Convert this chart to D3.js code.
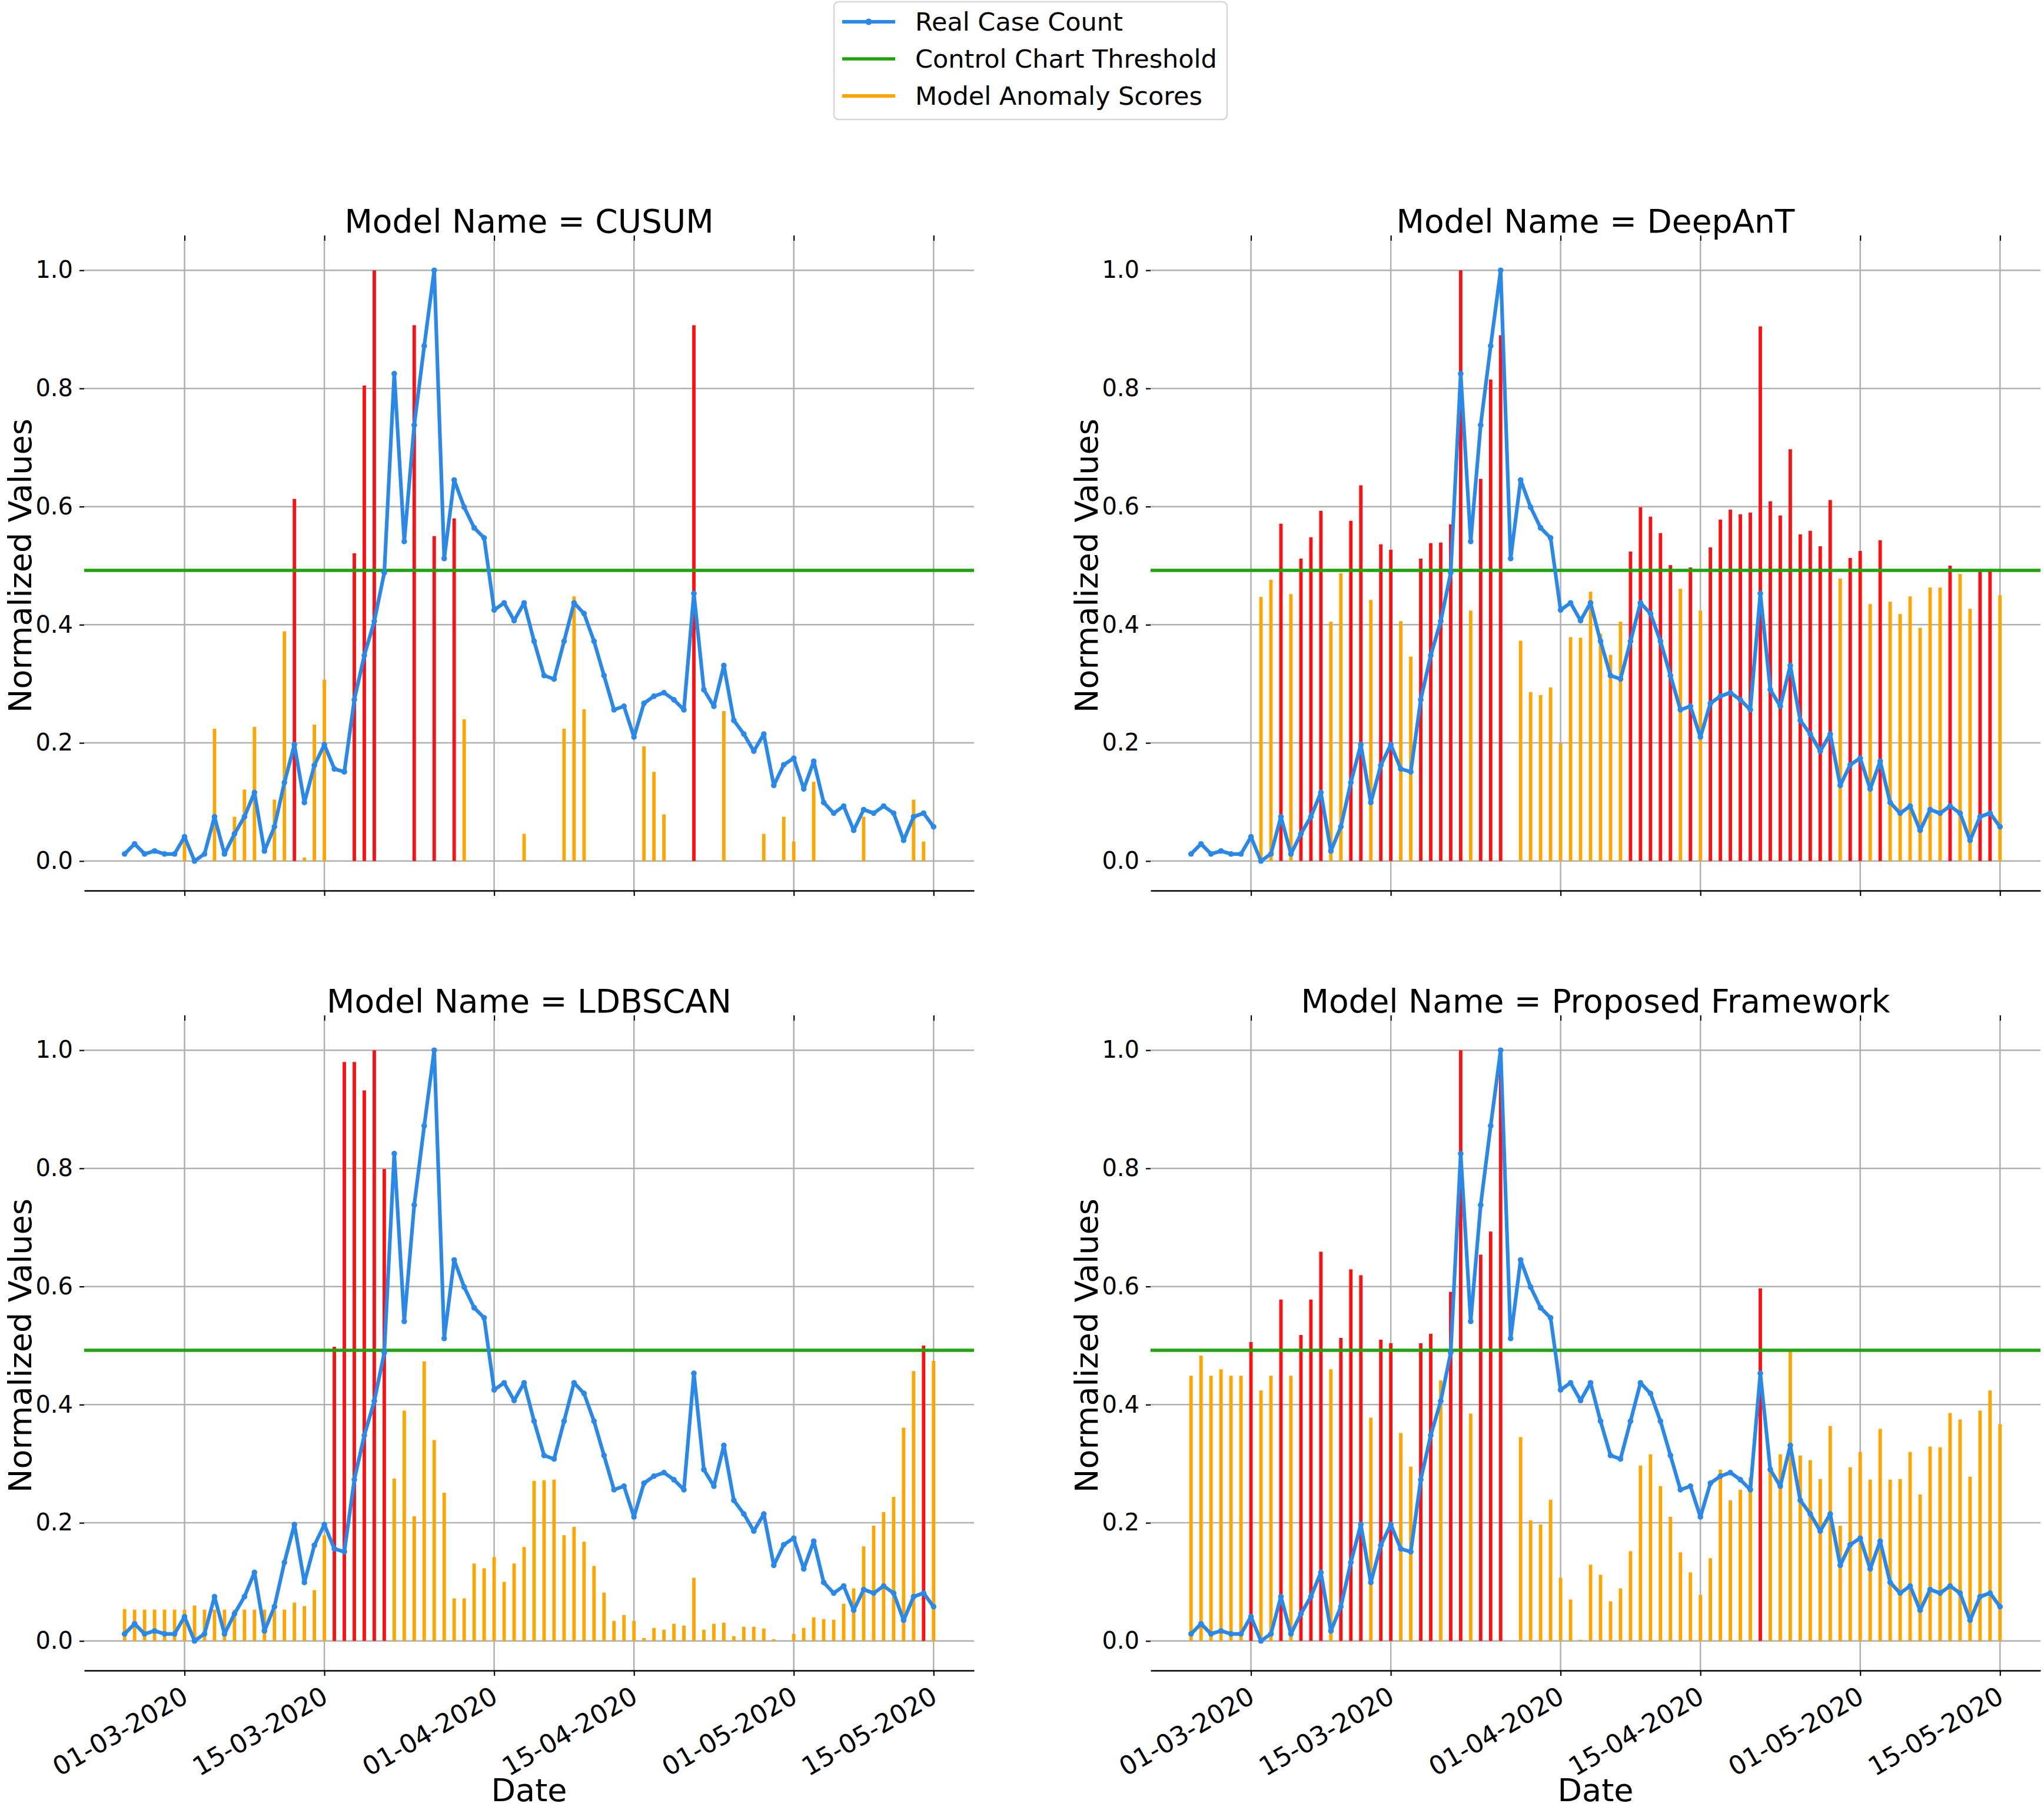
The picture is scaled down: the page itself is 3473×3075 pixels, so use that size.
<!DOCTYPE html>
<html>
<head>
<meta charset="utf-8">
<script src="https://cdn.jsdelivr.net/npm/d3@7"></script>
<style>
  html, body { margin: 0; padding: 0; background: #ffffff; }
  svg { display: block; }
  text { font-family: "DejaVu Sans", sans-serif; }
</style>
</head>
<body>
<script>
// ---------------- DATA ----------------
const startDate = "24-02-2020";
const endDate = "15-05-2020";
const tickLabels = ["01-03-2020", "15-03-2020", "01-04-2020", "15-04-2020", "01-05-2020", "15-05-2020"];
const yTickValues = [0.0, 0.2, 0.4, 0.6, 0.8, 1.0];
const modelNames = ["CUSUM", "DeepAnT", "LDBSCAN", "Proposed Framework"];
const threshold = 0.492;

const caseCount = [
  0.012, 0.029, 0.012, 0.017, 0.012, 0.012, 0.041, 0.000, 0.012, 0.075,
  0.012, 0.046, 0.075, 0.116, 0.017, 0.058, 0.133, 0.197, 0.099, 0.162,
  0.197, 0.156, 0.151, 0.273, 0.348, 0.406, 0.488, 0.825, 0.541, 0.738,
  0.872, 1.000, 0.512, 0.645, 0.599, 0.564, 0.547, 0.425, 0.437, 0.407,
  0.437, 0.372, 0.314, 0.308, 0.372, 0.437, 0.419, 0.372, 0.314, 0.256,
  0.262, 0.210, 0.267, 0.279, 0.285, 0.273, 0.256, 0.453, 0.290, 0.262,
  0.331, 0.238, 0.215, 0.186, 0.215, 0.128, 0.163, 0.174, 0.122, 0.169,
  0.099, 0.081, 0.093, 0.052, 0.087, 0.081, 0.093, 0.081, 0.035, 0.075,
  0.081, 0.058
];

const cusumScores = [
  0, 0, 0, 0, 0, 0, 0.040, 0, 0, 0.224,
  0, 0.075, 0.121, 0.227, 0, 0.104, 0.389, 0.613, 0.006, 0.231,
  0.307, 0, 0, 0.521, 0.805, 1.000, 0, 0, 0, 0.907,
  0, 0.550, 0, 0.580, 0.240, 0, 0, 0, 0, 0,
  0.046, 0, 0, 0, 0.224, 0.448, 0.257, 0, 0, 0,
  0, 0, 0.194, 0.151, 0.079, 0, 0, 0.907, 0, 0,
  0.254, 0, 0, 0, 0.046, 0, 0.075, 0.033, 0, 0.134,
  0, 0, 0, 0, 0.075, 0, 0, 0, 0, 0.104,
  0.033, 0
];

const deepAntScores = [
  0, 0, 0, 0, 0, 0, 0, 0.447, 0.476, 0.571,
  0.452, 0.512, 0.548, 0.593, 0.405, 0.487, 0.576, 0.636, 0.442, 0.536,
  0.527, 0.406, 0.346, 0.512, 0.538, 0.539, 0.570, 1.000, 0.424, 0.647,
  0.815, 0.890, 0, 0.373, 0.286, 0.281, 0.294, 0.199, 0.379, 0.378,
  0.456, 0.385, 0.349, 0.405, 0.524, 0.599, 0.583, 0.555, 0.501, 0.461,
  0.497, 0.424, 0.531, 0.578, 0.595, 0.587, 0.590, 0.905, 0.609, 0.585,
  0.697, 0.553, 0.559, 0.533, 0.611, 0.478, 0.513, 0.525, 0.435, 0.543,
  0.439, 0.418, 0.448, 0.395, 0.463, 0.463, 0.500, 0.486, 0.427, 0.494,
  0.494, 0.450
];

const ldbscanScores = [
  0.054, 0.053, 0.053, 0.053, 0.053, 0.053, 0.053, 0.060, 0.053, 0.053,
  0.053, 0.053, 0.053, 0.053, 0.053, 0.053, 0.053, 0.065, 0.059, 0.086,
  0.179, 0.498, 0.980, 0.980, 0.932, 1.000, 0.799, 0.275, 0.390, 0.211,
  0.473, 0.340, 0.251, 0.072, 0.072, 0.131, 0.123, 0.142, 0.100, 0.131,
  0.159, 0.271, 0.272, 0.273, 0.179, 0.193, 0.168, 0.127, 0.082, 0.034,
  0.044, 0.034, 0.005, 0.022, 0.019, 0.029, 0.026, 0.107, 0.019, 0.029,
  0.031, 0.008, 0.024, 0.024, 0.021, 0.003, 0, 0.012, 0.022, 0.040,
  0.037, 0.036, 0.063, 0.089, 0.160, 0.195, 0.218, 0.244, 0.361, 0.457,
  0.500, 0.474
];

const proposedScores = [
  0.449, 0.483, 0.449, 0.460, 0.449, 0.449, 0.506, 0.424, 0.449, 0.578,
  0.449, 0.518, 0.578, 0.659, 0.460, 0.513, 0.629, 0.619, 0.378, 0.510,
  0.504, 0.352, 0.295, 0.504, 0.520, 0.441, 0.591, 1.000, 0.385, 0.654,
  0.693, 1.000, 0, 0.345, 0.204, 0.197, 0.239, 0.107, 0.070, 0.002,
  0.129, 0.112, 0.067, 0.089, 0.152, 0.297, 0.316, 0.262, 0.210, 0.150,
  0.116, 0.078, 0.140, 0.290, 0.238, 0.256, 0.277, 0.597, 0.293, 0.316,
  0.490, 0.314, 0.306, 0.274, 0.364, 0.195, 0.294, 0.320, 0.273, 0.359,
  0.273, 0.274, 0.320, 0.248, 0.329, 0.328, 0.386, 0.375, 0.278, 0.390,
  0.424, 0.367
];

const legendLabels = ["Real Case Count", "Control Chart Threshold", "Model Anomaly Scores"];

// ---------------- STYLE / LAYOUT ----------------
const COLORS = { line: "#2a88e9", threshold: "#1fa50c", score: "#ffa500", anomaly: "#ff0f0f", grid: "#b0b0b0" };
const W = 1512, H = 1104;
const layout = [
  { x0: 143, y0: 409, showX: false },
  { x0: 1955, y0: 409, showX: false },
  { x0: 143, y0: 1734, showX: true },
  { x0: 1955, y0: 1734, showX: true }
];
const scoreSets = [cusumScores, deepAntScores, ldbscanScores, proposedScores];

const parse = d3.utcParse("%d-%m-%Y");
const fmt = d3.utcFormat("%d-%m-%Y");
const dates = d3.utcDay.range(parse(startDate), d3.utcDay.offset(parse(endDate), 1));
const tickDates = tickLabels.map(parse);

const svg = d3.select("body").append("svg")
  .attr("width", 3473).attr("height", 3075)
  .attr("viewBox", "0 0 3473 3075");
svg.append("rect").attr("width", 3473).attr("height", 3075).attr("fill", "#fff");

function drawPanel(idx) {
  const L = layout[idx];
  const scores = scoreSets[idx];
  const first = dates[0], last = dates[dates.length - 1];
  const span = last - first;
  const x = d3.scaleUtc()
    .domain([new Date(+first - span * 0.05), new Date(+last + span * 0.05)])
    .range([L.x0, L.x0 + W]);
  const y = d3.scaleLinear().domain([-0.05, 1.05]).range([L.y0 + H, L.y0]);
  const g = svg.append("g");

  // grid
  g.append("g").selectAll("line").data(tickDates).join("line")
    .attr("x1", d => x(d)).attr("x2", d => x(d))
    .attr("y1", L.y0).attr("y2", L.y0 + H)
    .attr("stroke", COLORS.grid).attr("stroke-width", 2.5);
  g.append("g").selectAll("line").data(yTickValues).join("line")
    .attr("x1", L.x0).attr("x2", L.x0 + W)
    .attr("y1", d => y(d)).attr("y2", d => y(d))
    .attr("stroke", COLORS.grid).attr("stroke-width", 2.5);

  // bars (anomaly scores)
  const barData = scores.map((v, i) => ({ d: dates[i], v })).filter(e => e.v > 0);
  g.append("g").selectAll("line").data(barData).join("line")
    .attr("x1", e => x(e.d)).attr("x2", e => x(e.d))
    .attr("y1", y(0)).attr("y2", e => y(e.v))
    .attr("stroke", e => e.v >= threshold ? COLORS.anomaly : COLORS.score)
    .attr("stroke-width", 5.8);

  // threshold
  g.append("line")
    .attr("x1", L.x0).attr("x2", L.x0 + W)
    .attr("y1", y(threshold)).attr("y2", y(threshold))
    .attr("stroke", COLORS.threshold).attr("stroke-width", 5.5);

  // case count line
  const lineGen = d3.line().x((v, i) => x(dates[i])).y(v => y(v));
  g.append("path").datum(caseCount)
    .attr("d", lineGen).attr("fill", "none")
    .attr("stroke", COLORS.line).attr("stroke-width", 6.2)
    .attr("stroke-linejoin", "round");
  g.append("g").selectAll("circle").data(caseCount).join("circle")
    .attr("cx", (v, i) => x(dates[i])).attr("cy", v => y(v))
    .attr("r", 4.8).attr("fill", COLORS.line);

  // axes
  const xb = g.append("g").attr("transform", `translate(0,${L.y0 + H})`)
    .call(d3.axisBottom(x).tickValues(tickDates)
      .tickFormat(L.showX ? fmt : () => "").tickSize(9).tickSizeOuter(0));
  xb.select(".domain").attr("stroke", "#000").attr("stroke-width", 2.6);
  xb.selectAll(".tick line").attr("stroke", "#000").attr("stroke-width", 2.2);
  xb.selectAll(".tick text")
    .attr("x", 0).attr("y", 0).attr("dy", "0.75em")
    .attr("text-anchor", "end")
    .attr("transform", "translate(-8,24) rotate(-30)")
    .attr("font-size", 44).attr("fill", "#000")
    .style("font-family", "'DejaVu Sans', sans-serif");

  const xt = g.append("g").attr("transform", `translate(0,${L.y0})`)
    .call(d3.axisTop(x).tickValues(tickDates).tickFormat(() => "").tickSize(9).tickSizeOuter(0));
  xt.select(".domain").remove();
  xt.selectAll(".tick line").attr("stroke", "#000").attr("stroke-width", 2.2);

  const ya = g.append("g").attr("transform", `translate(${L.x0},0)`)
    .call(d3.axisLeft(y).tickValues(yTickValues).tickFormat(d3.format(".1f"))
      .tickSize(8).tickPadding(11));
  ya.select(".domain").remove();
  ya.selectAll(".tick line").attr("stroke", "#000").attr("stroke-width", 2.2);
  ya.selectAll(".tick text").attr("font-size", 40).attr("fill", "#000")
    .style("font-family", "'DejaVu Sans', sans-serif");

  // title
  g.append("text")
    .attr("x", L.x0 + W / 2).attr("y", L.y0 - 14)
    .attr("text-anchor", "middle").attr("font-size", 55).attr("fill", "#000")
    .text("Model Name = " + modelNames[idx]);

  // y label
  g.append("text")
    .attr("transform", `translate(${L.x0 - 90},${L.y0 + H / 2}) rotate(-90)`)
    .attr("text-anchor", "middle").attr("font-size", 54).attr("fill", "#000")
    .text("Normalized Values");

  if (L.showX) {
    g.append("text")
      .attr("x", L.x0 + W / 2).attr("y", 3060)
      .attr("text-anchor", "middle").attr("font-size", 54).attr("fill", "#000")
      .text("Date");
  }
}

for (let i = 0; i < 4; i++) drawPanel(i);

// legend
const lg = svg.append("g");
lg.append("rect").attr("x", 1417).attr("y", 3).attr("width", 668).attr("height", 200)
  .attr("rx", 8).attr("fill", "#fff").attr("fill-opacity", 0.9)
  .attr("stroke", "#d6d6d6").attr("stroke-width", 2.5);
const legendColors = [COLORS.line, COLORS.threshold, COLORS.score];
const legendWidths = [6.2, 5.5, 5.8];
legendLabels.forEach((lab, i) => {
  const cy = 37 + i * 63;
  lg.append("line").attr("x1", 1431).attr("x2", 1521).attr("y1", cy).attr("y2", cy)
    .attr("stroke", legendColors[i]).attr("stroke-width", legendWidths[i]);
  if (i === 0) lg.append("circle").attr("cx", 1476).attr("cy", cy).attr("r", 5.5).attr("fill", COLORS.line);
  lg.append("text").attr("x", 1555).attr("y", cy).attr("dy", "0.36em")
    .attr("font-size", 43).attr("fill", "#000").text(lab);
});
</script>
</body>
</html>
